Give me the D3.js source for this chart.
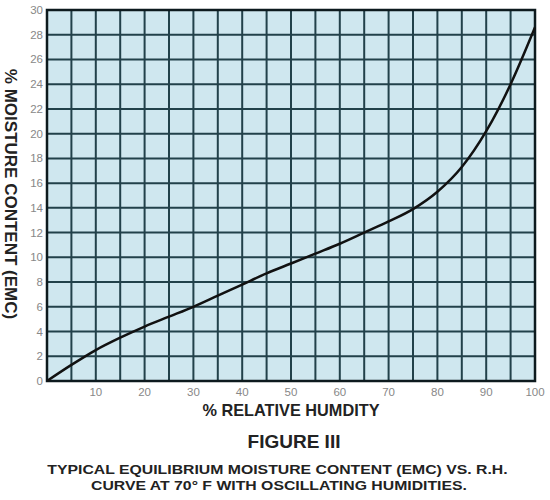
<!DOCTYPE html>
<html><head><meta charset="utf-8">
<script src="https://cdn.jsdelivr.net/npm/d3@7"></script>
<style>body{margin:0;background:#fff;}svg{display:block;}</style>
</head><body>
<script>
const rh  = [0, 5, 10, 15, 20, 25, 30, 35, 40, 45, 50, 55, 60, 65, 70, 75, 80, 85, 90, 95, 100];
const emc = [0, 1.3, 2.5, 3.5, 4.4, 5.2, 6.0, 6.9, 7.8, 8.7, 9.5, 10.3, 11.1, 12.0, 12.9, 13.9, 15.3, 17.3, 20.2, 24.0, 28.6];
const xTicks = [10, 20, 30, 40, 50, 60, 70, 80, 90, 100];
const yTicks = [0, 2, 4, 6, 8, 10, 12, 14, 16, 18, 20, 22, 24, 26, 28, 30];
const xGrid = d3.range(5, 100, 5);
const yGrid = d3.range(2, 30, 2);
const xTitle = "% RELATIVE HUMDITY";
const yTitle = "% MOISTURE CONTENT (EMC)";
const figTitle = "FIGURE III";
const caption = ["TYPICAL EQUILIBRIUM MOISTURE CONTENT (EMC) VS. R.H.", "CURVE AT 70° F WITH OSCILLATING HUMIDITIES."];

const W = 550, H = 500;
const L = 47, R = 535, T = 10, B = 381;
const svg = d3.select("body").append("svg").attr("width", W).attr("height", H);
const x = d3.scaleLinear().domain([0, 100]).range([L, R]);
const y = d3.scaleLinear().domain([0, 30]).range([B, T]);

svg.append("rect").attr("x", L).attr("y", T).attr("width", R - L).attr("height", B - T).attr("fill", "#cfe7ef");

const gridColor = "#22414a";
svg.append("g").selectAll("line").data(xGrid).join("line")
  .attr("x1", d => x(d)).attr("x2", d => x(d)).attr("y1", T).attr("y2", B)
  .attr("stroke", gridColor).attr("stroke-width", 2);
svg.append("g").selectAll("line").data(yGrid).join("line")
  .attr("y1", d => y(d)).attr("y2", d => y(d)).attr("x1", L).attr("x2", R)
  .attr("stroke", gridColor).attr("stroke-width", 2);

svg.append("rect").attr("x", L).attr("y", T).attr("width", R - L).attr("height", B - T)
  .attr("fill", "none").attr("stroke", "#0d1a1e").attr("stroke-width", 2.5);

const line = d3.line().x((d, i) => x(rh[i])).y(d => y(d)).curve(d3.curveMonotoneX);
svg.append("path").datum(emc).attr("d", line).attr("fill", "none")
  .attr("stroke", "#111").attr("stroke-width", 2.5);

const font = "'Liberation Sans', Arial, sans-serif";
svg.append("g").selectAll("text").data(xTicks).join("text")
  .attr("x", d => x(d)).attr("y", 396).attr("text-anchor", "middle")
  .attr("font-family", font).attr("font-size", 11.5).attr("fill", "#888").text(d => d);
svg.append("g").selectAll("text").data(yTicks).join("text")
  .attr("x", 43).attr("y", d => y(d) + 4).attr("text-anchor", "end")
  .attr("font-family", font).attr("font-size", 11.5).attr("fill", "#888").text(d => d);

svg.append("text").attr("x", 291).attr("y", 416).attr("text-anchor", "middle")
  .attr("font-family", font).attr("font-weight", "bold").attr("font-size", 16.3).attr("fill", "#222").text(xTitle);
svg.append("text").attr("transform", "translate(5,194) rotate(90)").attr("text-anchor", "middle")
  .attr("font-family", font).attr("font-weight", "bold").attr("font-size", 17).attr("fill", "#222").text(yTitle);

svg.append("text").attr("x", 294).attr("y", 448).attr("text-anchor", "middle")
  .attr("font-family", font).attr("font-weight", "bold").attr("font-size", 19).attr("fill", "#222").text(figTitle);
svg.append("g").selectAll("text").data(caption).join("text")
  .attr("transform", (d, i) => `translate(${i ? 279 : 277.5},${474 + i * 16}) scale(1.17,1)`)
  .attr("text-anchor", "middle")
  .attr("font-family", font).attr("font-weight", "bold").attr("font-size", 13.5).attr("fill", "#222").text(d => d);
</script>
</body></html>
